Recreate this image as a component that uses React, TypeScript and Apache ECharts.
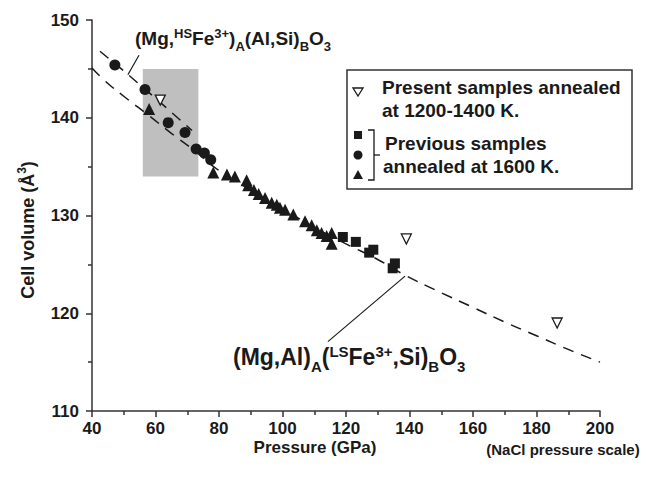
import React, { useEffect, useRef } from "react";
import * as echarts from "echarts";

const xTicks = { min: 40, max: 200, interval: 20 };
const yTicks = { min: 110, max: 150, interval: 10 };

// Present samples annealed at 1200-1400 K (open, inverted triangles)
const presentData: number[][] = [
  [61.5, 141.8],
  [139.0, 127.6],
  [186.5, 119.0],
];
// Previous samples annealed at 1600 K
const squareData: number[][] = [
  [119.0, 127.8],
  [123.1, 127.3],
  [127.3, 126.2],
  [128.6, 126.5],
  [134.7, 124.6],
  [135.4, 125.1],
];
const circleData: number[][] = [
  [47.2, 145.4],
  [56.7, 142.9],
  [64.0, 139.5],
  [69.3, 138.5],
  [72.8, 136.8],
  [75.4, 136.4],
  [77.4, 135.7],
];
const triangleData: number[][] = [
  [58.0, 140.9],
  [78.2, 134.4],
  [82.5, 134.2],
  [85.0, 134.0],
  [88.7, 133.6],
  [89.2, 133.1],
  [91.0, 132.6],
  [92.5, 132.2],
  [94.5, 131.8],
  [96.6, 131.3],
  [98.2, 131.1],
  [99.2, 130.8],
  [100.8, 130.6],
  [103.4, 130.1],
  [107.1, 129.4],
  [109.2, 129.0],
  [110.8, 128.5],
  [112.3, 128.2],
  [113.9, 127.9],
  [115.5, 128.2],
  [115.5, 127.1],
];
// Fitted compression curves (dashed)
const hsCurve: number[][] = [
  [42.5, 146.8],
  [50, 144.8],
  [60, 142.0],
  [71.5, 138.7],
];
const lsCurve: number[][] = [
  [40, 145.1],
  [44, 143.8],
  [50, 142.2],
  [58, 140.2],
  [65, 138.4],
  [72, 136.7],
  [80, 134.6],
  [90, 132.6],
  [100, 130.7],
  [110, 128.8],
  [120, 127.1],
  [130, 125.5],
  [138, 124.0],
  [150, 122.1],
  [160, 120.6],
  [170, 119.1],
  [180, 117.7],
  [190, 116.3],
  [200, 115.0],
];
// Leader lines from labels to curves
const hsLeader: number[][] = [
  [54.8, 146.4],
  [51.3, 144.4],
];
const lsLeader: number[][] = [
  [114.3, 117.1],
  [138.6, 123.8],
];
// Shaded pressure range
const shadeX = [56, 73.5];
const shadeY = [134, 145];

const FONT = "'Liberation Sans', Arial, Helvetica, sans-serif";
const INK = "#1a1a1a";

function richFormula(parts: [string, string][], pre: string) {
  return parts.map(([k, t]) => `{${pre}${k}|${t}}`).join("");
}

function formulaStyles(pre: string, mainSize: number, smallSize: number, lh: number) {
  const base = { fontWeight: "bold", fontFamily: FONT, fill: INK, color: INK, lineHeight: lh };
  return {
    [pre + "m"]: { ...base, fontSize: mainSize, verticalAlign: "middle" },
    [pre + "p"]: { ...base, fontSize: smallSize, verticalAlign: "top", padding: [3, 0, 0, 0] },
    [pre + "b"]: { ...base, fontSize: smallSize, verticalAlign: "bottom" },
  };
}

export default function App() {
  const ref = useRef<HTMLDivElement>(null);
  useEffect(() => {
    document.body.style.margin = "0";
    if (!ref.current) return;
    const chart = echarts.init(ref.current, null, { renderer: "svg" });
    const upperLabel = richFormula(
      [
        ["m", "(Mg,"], ["p", "HS"], ["m", "Fe"], ["p", "3+"], ["m", ")"], ["b", "A"],
        ["m", "(Al,Si)"], ["b", "B"], ["m", "O"], ["b", "3"],
      ],
      "u"
    );
    const lowerLabel = richFormula(
      [
        ["m", "(Mg,Al)"], ["b", "A"], ["m", "("], ["p", "LS"], ["m", "Fe"], ["p", "3+"],
        ["m", ",Si)"], ["b", "B"], ["m", "O"], ["b", "3"],
      ],
      "l"
    );
    const legendText = (x: number, y: number, t: string) => ({
      type: "text",
      x,
      y,
      z: 11,
      style: {
        text: t,
        fontSize: 19,
        fontWeight: "bold",
        fontFamily: FONT,
        fill: INK,
        align: "left",
        verticalAlign: "middle",
      },
    });
    const axisCommon = {
      type: "value",
      axisLine: { lineStyle: { color: "#333", width: 1.5 } },
      axisTick: { length: 6, lineStyle: { color: "#333", width: 1.5 } },
      minorTick: { show: true, splitNumber: 2, length: 4, lineStyle: { color: "#333", width: 1.5 } },
      splitLine: { show: false },
    };
    const option: any = {
      animation: false,
      backgroundColor: "#ffffff",
      grid: { left: 92, right: 46, top: 20, bottom: 70, containLabel: false, outerBoundsMode: "none" },
      xAxis: {
        ...axisCommon,
        min: xTicks.min,
        max: xTicks.max,
        interval: xTicks.interval,
        axisLabel: { fontSize: 17, fontWeight: "bold", fontFamily: FONT, color: INK, margin: 9 },
      },
      yAxis: {
        ...axisCommon,
        min: yTicks.min,
        max: yTicks.max,
        interval: yTicks.interval,
        axisLabel: { fontSize: 17, fontWeight: "bold", fontFamily: FONT, color: INK, margin: 13 },
      },
      series: [
        {
          type: "line",
          data: lsCurve,
          smooth: true,
          showSymbol: false,
          silent: true,
          lineStyle: { color: INK, width: 1.5, type: [11, 8] },
          z: 2,
          markArea: {
            silent: true,
            itemStyle: { color: "#bfbfbf", opacity: 1 },
            data: [[{ coord: [shadeX[0], shadeY[1]] }, { coord: [shadeX[1], shadeY[0]] }]],
          },
        },
        {
          type: "line",
          data: hsCurve,
          showSymbol: false,
          silent: true,
          lineStyle: { color: INK, width: 1.5, type: [11, 8] },
          z: 2,
        },
        {
          type: "line",
          data: hsLeader,
          showSymbol: false,
          silent: true,
          lineStyle: { color: INK, width: 1.2 },
          z: 2,
        },
        {
          type: "line",
          data: lsLeader,
          showSymbol: false,
          silent: true,
          lineStyle: { color: INK, width: 1.2 },
          z: 2,
        },
        {
          type: "scatter",
          data: triangleData,
          symbol: "triangle",
          symbolSize: 12,
          itemStyle: { color: INK, opacity: 1 },
          z: 3,
        },
        {
          type: "scatter",
          data: circleData,
          symbol: "circle",
          symbolSize: 11,
          itemStyle: { color: INK, opacity: 1 },
          z: 3,
        },
        {
          type: "scatter",
          data: squareData,
          symbol: "rect",
          symbolSize: 10,
          itemStyle: { color: INK, opacity: 1 },
          z: 3,
        },
        {
          type: "scatter",
          data: presentData,
          symbol: "triangle",
          symbolRotate: 180,
          symbolSize: 10,
          itemStyle: { color: "#ffffff", borderColor: INK, borderWidth: 1.3, opacity: 1 },
          z: 4,
        },
      ],
      graphic: [
        {
          type: "text",
          x: 135,
          y: 38,
          style: { text: upperLabel, rich: formulaStyles("u", 19, 13, 29), align: "left", verticalAlign: "middle" },
        },
        {
          type: "text",
          x: 233,
          y: 357,
          style: { text: lowerLabel, rich: formulaStyles("l", 23, 15, 33), align: "left", verticalAlign: "middle" },
        },
        {
          type: "text",
          x: 28,
          y: 230,
          rotation: Math.PI / 2,
          style: {
            text: "{t|Cell volume (Å}{s|3}{t|)}",
            align: "center",
            verticalAlign: "middle",
            rich: {
              t: { fontSize: 18, fontWeight: "bold", fontFamily: FONT, fill: INK, color: INK, lineHeight: 25, verticalAlign: "middle" },
              s: { fontSize: 12, fontWeight: "bold", fontFamily: FONT, fill: INK, color: INK, lineHeight: 25, verticalAlign: "top" },
            },
          },
        },
        {
          type: "text",
          x: 315,
          y: 447,
          style: {
            text: "Pressure (GPa)",
            fontSize: 17,
            fontWeight: "bold",
            fontFamily: FONT,
            fill: INK,
            align: "center",
            verticalAlign: "middle",
          },
        },
        {
          type: "text",
          x: 563,
          y: 449,
          style: {
            text: "(NaCl pressure scale)",
            fontSize: 15,
            fontWeight: "bold",
            fontFamily: FONT,
            fill: INK,
            align: "center",
            verticalAlign: "middle",
          },
        },
        {
          type: "rect",
          shape: { x: 347, y: 70, width: 285, height: 119 },
          style: { fill: "#ffffff", stroke: "#333", lineWidth: 1.5 },
          z: 10,
        },
        {
          type: "polygon",
          shape: { points: [[353, 88], [363, 88], [358, 96]] },
          style: { fill: "#ffffff", stroke: INK, lineWidth: 1.3 },
          z: 11,
        },
        {
          type: "rect",
          shape: { x: 354, y: 131, width: 8, height: 8 },
          style: { fill: INK },
          z: 11,
        },
        {
          type: "circle",
          shape: { cx: 358, cy: 155, r: 4.5 },
          style: { fill: INK },
          z: 11,
        },
        {
          type: "polygon",
          shape: { points: [[353, 179], [363, 179], [358, 170]] },
          style: { fill: INK },
          z: 11,
        },
        {
          type: "polyline",
          shape: { points: [[368, 130], [374, 130], [374, 180], [368, 180]] },
          style: { stroke: INK, lineWidth: 1.3, fill: null },
          z: 11,
        },
        {
          type: "line",
          shape: { x1: 374, y1: 155, x2: 380, y2: 155 },
          style: { stroke: INK, lineWidth: 1.3 },
          z: 11,
        },
        legendText(382, 87, "Present samples annealed"),
        legendText(382, 110, "at 1200-1400 K."),
        legendText(385, 143, "Previous samples"),
        legendText(383, 166, "annealed at 1600 K."),
      ],
    };
    chart.setOption(option);
    return () => chart.dispose();
  }, []);
  return <div ref={ref} style={{ width: 646, height: 481 }} />;
}
